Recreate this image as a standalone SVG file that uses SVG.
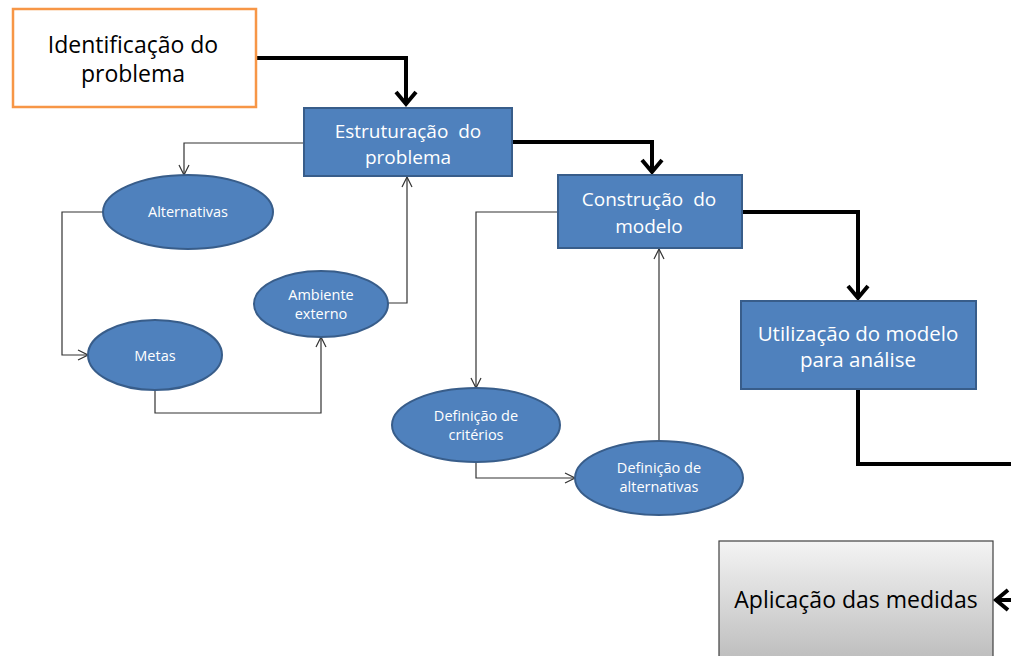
<svg xmlns="http://www.w3.org/2000/svg" width="1011" height="656" viewBox="0 0 1011 656">
<defs>
<style>
.box{fill:#4f81bd;stroke:#385d8a;stroke-width:2}
.ell{fill:#4f81bd;stroke:#385d8a;stroke-width:2}
.wt{fill:#fff;font-family:"Open Sans","Noto Sans",sans-serif;text-anchor:middle}
.bt{fill:#000;font-family:"Open Sans","Noto Sans",sans-serif;text-anchor:middle}
.es{font-size:14.5px}
.thick{fill:none;stroke:#000;stroke-width:4}
.thin{fill:none;stroke:#333;stroke-width:1.2}
</style>
<marker id="at" markerWidth="12" markerHeight="12" refX="11" refY="6" orient="auto" markerUnits="userSpaceOnUse" viewBox="0 0 12 12">
<path d="M1,1 L11,6 L1,11" fill="none" stroke="#333" stroke-width="1.2"/>
</marker>
<marker id="ah2" markerWidth="24" markerHeight="24" refX="16" refY="12" orient="auto" markerUnits="userSpaceOnUse" viewBox="0 0 24 24">
<path d="M4,2 L16,12 L4,22" fill="none" stroke="#000" stroke-width="4"/>
</marker>
<linearGradient id="gray" x1="0" y1="0" x2="0" y2="1">
<stop offset="0" stop-color="#f4f4f4"/>
<stop offset="1" stop-color="#bdbdbd"/>
</linearGradient>
</defs>
<rect width="1011" height="656" fill="#fff"/>
<g id="connectors">
<path class="thick" d="M256,58 H406 V104" marker-end="url(#ah2)"/>
<path class="thick" d="M512,142 H652 V172" marker-end="url(#ah2)"/>
<path class="thick" d="M742,212 H858 V298" marker-end="url(#ah2)"/>
<path class="thick" d="M858,389 V464 H1013"/>
<path class="thick" d="M1013,600 H996" marker-end="url(#ah2)"/>
<path class="thin" d="M304,143 H184 V175" marker-end="url(#at)"/>
<path class="thin" d="M103,212 H62 V355 H88" marker-end="url(#at)"/>
<path class="thin" d="M155,390 V413 H321 V337" marker-end="url(#at)"/>
<path class="thin" d="M388,303 H407 V177" marker-end="url(#at)"/>
<path class="thin" d="M558,212 H476 V388" marker-end="url(#at)"/>
<path class="thin" d="M476,462 V478 H575" marker-end="url(#at)"/>
<path class="thin" d="M659,442 V249" marker-end="url(#at)"/>
</g>
<g id="identificacao">
<rect x="13" y="9" width="243" height="98" fill="#fff" stroke="#f79646" stroke-width="2.5"/>
<text class="bt" font-size="23" x="133" y="53">Identificação do</text>
<text class="bt" font-size="23" x="133" y="82">problema</text>
</g>
<g id="estruturacao">
<rect class="box" x="304" y="108" width="208" height="68"/>
<text class="wt" font-size="19" word-spacing="5" x="408" y="138">Estruturação do</text>
<text class="wt" font-size="19" x="408" y="164">problema</text>
</g>
<g id="construcao">
<rect class="box" x="558" y="175" width="184" height="73"/>
<text class="wt" font-size="19" word-spacing="5" x="649" y="206">Construção do</text>
<text class="wt" font-size="19" x="649" y="233">modelo</text>
</g>
<g id="utilizacao">
<rect class="box" x="741" y="301" width="235" height="88"/>
<text class="wt" font-size="20.5" x="858" y="341">Utilização do modelo</text>
<text class="wt" font-size="20.5" x="858" y="367">para análise</text>
</g>
<g id="aplicacao">
<rect x="719" y="541" width="274" height="120" fill="url(#gray)" stroke="#404040" stroke-width="1.2"/>
<text class="bt" font-size="23" x="856" y="608">Aplicação das medidas</text>
</g>
<g id="alternativas">
<ellipse class="ell" cx="188" cy="212" rx="85" ry="37"/>
<text class="wt es" x="188" y="217">Alternativas</text>
</g>
<g id="metas">
<ellipse class="ell" cx="155" cy="355" rx="67" ry="35"/>
<text class="wt es" x="155" y="361" font-size="15.5">Metas</text>
</g>
<g id="ambiente">
<ellipse class="ell" cx="321" cy="304" rx="67" ry="33"/>
<text class="wt es" x="321" y="300">Ambiente</text>
<text class="wt es" x="321" y="319">externo</text>
</g>
<g id="criterios">
<ellipse class="ell" cx="476" cy="425" rx="84" ry="37"/>
<text class="wt es" x="476" y="421">Definição de</text>
<text class="wt es" x="476" y="440">critérios</text>
</g>
<g id="def-alternativas">
<ellipse class="ell" cx="659" cy="478" rx="84" ry="37"/>
<text class="wt es" x="659" y="473">Definição de</text>
<text class="wt es" x="659" y="492">alternativas</text>
</g>
</svg>
